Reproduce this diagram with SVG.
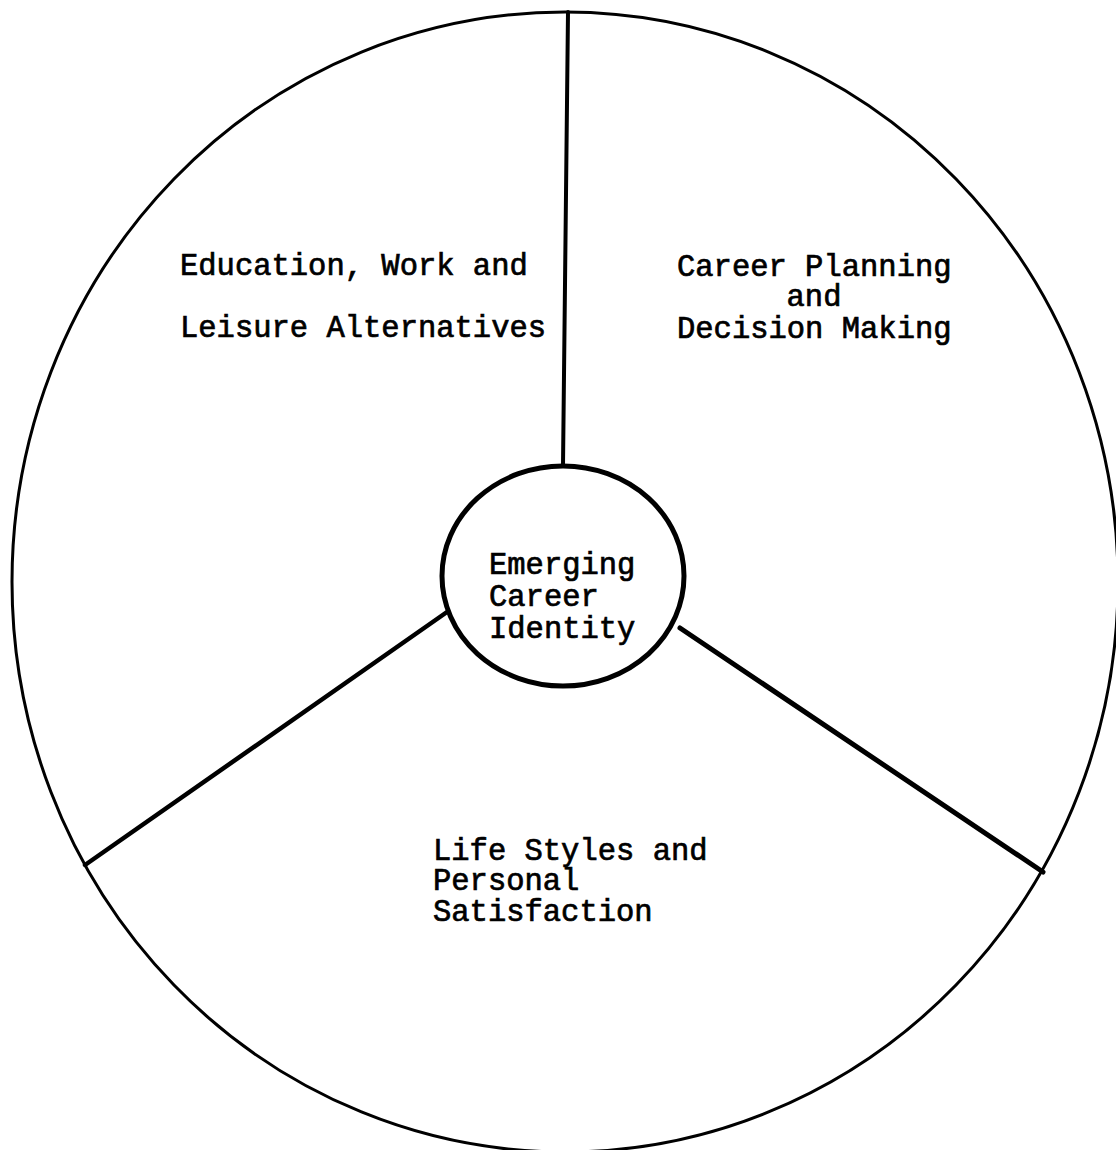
<svg xmlns="http://www.w3.org/2000/svg" width="1116" height="1150" viewBox="0 0 1116 1150">
<style>
.t{font-family:"Liberation Mono","Courier New",monospace;font-size:30.5px;fill:#000;stroke:#000;stroke-width:0.7}
.c{text-anchor:middle}
.ln{stroke:#000;stroke-linecap:round;fill:none}
</style>
<rect width="1116" height="1150" fill="#fff"/>
<g id="outer"><ellipse cx="565" cy="582" rx="553" ry="570" fill="none" stroke="#000" stroke-width="3"/></g>
<g id="connectors">
<line class="ln" x1="568" y1="12" x2="563" y2="466" stroke-width="4"/>
<line class="ln" x1="447" y1="612" x2="85" y2="865" stroke-width="4.5"/>
<line class="ln" x1="680" y1="628" x2="1043" y2="872" stroke-width="5"/>
</g>
<g id="center"><ellipse cx="563" cy="576" rx="121" ry="110" fill="#fff" stroke="#000" stroke-width="5"/>
<text class="t" x="489" y="574">Emerging</text>
<text class="t" x="489" y="606">Career</text>
<text class="t" x="489" y="638">Identity</text></g>
<g id="education">
<text class="t" x="180" y="275">Education, Work and</text>
<text class="t" x="180" y="337">Leisure Alternatives</text></g>
<g id="planning">
<text class="t" x="677" y="276">Career Planning</text>
<text class="t c" x="814" y="306">and</text>
<text class="t" x="677" y="338">Decision Making</text></g>
<g id="lifestyles">
<text class="t" x="433" y="860">Life Styles and</text>
<text class="t" x="433" y="890">Personal</text>
<text class="t" x="433" y="921">Satisfaction</text></g>
</svg>
